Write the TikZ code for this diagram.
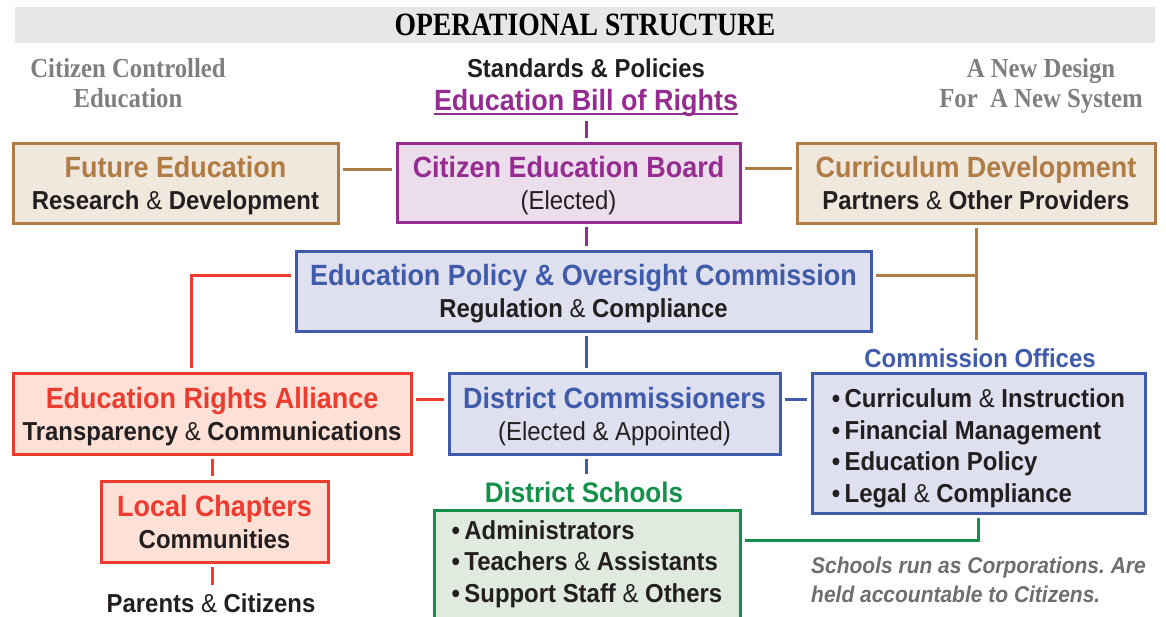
\documentclass[tikz,border=0pt]{standalone}
\usepackage{fontspec}
\setmainfont{Liberation Sans}[FakeStretch=0.92]
\newfontfamily\headserif{Liberation Serif}[FakeStretch=0.85]
\newfontfamily\sideserif{Liberation Serif}[FakeStretch=0.9]
\usepackage{xcolor}
\usetikzlibrary{positioning}
\frenchspacing

\definecolor{cebpurple}{HTML}{952C8F}
\definecolor{cebfill}{HTML}{EBDDEB}
\definecolor{rdbrown}{HTML}{B07C45}
\definecolor{rdfill}{HTML}{F0E7DD}
\definecolor{epblue}{HTML}{3F5BA9}
\definecolor{epfill}{HTML}{DFE0EF}
\definecolor{erared}{HTML}{EE3B2F}
\definecolor{erafill}{HTML}{FDE1D6}
\definecolor{dsgreen}{HTML}{14904A}
\definecolor{dsfill}{HTML}{E0EADF}
\definecolor{sidegray}{HTML}{7F7F7F}
\definecolor{notegray}{HTML}{6D6E70}
\definecolor{bandgray}{HTML}{E6E7E7}
\definecolor{inkblack}{HTML}{231F20}

\newcommand{\ramp}{{\mdseries\&}}
\newcommand{\boxtext}[3]{\rule{0pt}{28pt}{\fontsize{29.3}{32}\selectfont\color{#1}#2}\\#3\rule[-7pt]{0pt}{7pt}}

\begin{document}
\begin{tikzpicture}[x=1pt,y=-1pt,
    box/.style={draw,rectangle,line width=3pt,inner sep=0pt,outer sep=5pt,align=center,
      text=inkblack,font=\fontsize{26}{32}\selectfont\bfseries},
    purplebox/.style={box,draw=cebpurple,fill=cebfill},
    brownbox/.style={box,draw=rdbrown,fill=rdfill},
    bluebox/.style={box,draw=epblue,fill=epfill},
    redbox/.style={box,draw=erared,fill=erafill},
    greenbox/.style={box,draw=dsgreen,fill=dsfill},
    listbox/.style={align=left,font=\fontsize{26}{31.5}\selectfont\bfseries},
    sidetext/.style={align=center,text=sidegray,font=\sideserif\fontsize{27.5}{30}\selectfont\bfseries},
    textlabel/.style={inner sep=0pt,outer sep=8pt,font=\fontsize{26}{30}\selectfont\bfseries},
    purpleline/.style={cebpurple,line width=3pt},
    brownline/.style={rdbrown,line width=3pt},
    blueline/.style={epblue,line width=3pt},
    redline/.style={erared,line width=3pt},
    greenline/.style={dsgreen,line width=3pt}]
  \useasboundingbox (0,0) rectangle (1166,616);

  \node[fill=bandgray,minimum width=1140pt,minimum height=36pt,inner sep=0pt,
    font=\headserif\fontsize{32.5}{30}\selectfont\bfseries] (title) at (585,25) {OPERATIONAL STRUCTURE};
  \node[sidetext] (citizen) at (128,83) {Citizen Controlled\\Education};
  \node[sidetext] (design) at (1041,86) {A New Design\\For\ \ A New System};

  \node[textlabel,anchor=base,text=inkblack] (standards) at (586,77) {Standards \& Policies};
  \node[textlabel,anchor=base,outer sep=5pt,text=cebpurple,font=\fontsize{29.3}{30}\selectfont\bfseries] (bill) at (586,110) {Education Bill of Rights};
  \draw[cebpurple,line width=2pt] ([xshift=5pt,yshift=-4pt]bill.base west) -- ([xshift=-5pt,yshift=-4pt]bill.base east);

  \node[purplebox,minimum width=343pt,minimum height=79pt] (board) at (568.5,182.5)
    {\boxtext{cebpurple}{Citizen Education Board}{\mdseries(Elected)}};
  \node[brownbox,minimum width=325pt,minimum height=80pt] (future) at (175.5,183)
    {\boxtext{rdbrown}{Future Education}{Research \ramp{} Development}};
  \node[brownbox,minimum width=358pt,minimum height=80pt] (curric) at (976,183)
    {\boxtext{rdbrown}{Curriculum Development}{Partners \ramp{} Other Providers}};
  \node[bluebox,minimum width=575pt,minimum height=80pt] (epoc) at (583.5,291)
    {\boxtext{epblue}{Education Policy \& Oversight Commission}{Regulation \ramp{} Compliance}};
  \node[redbox,minimum width=398pt,minimum height=81pt] (era) at (212,413.5)
    {\boxtext{erared}{Education Rights Alliance}{Transparency \ramp{} Communications}};
  \node[bluebox,minimum width=331pt,minimum height=81pt] (dc) at (614.5,413.5)
    {\boxtext{epblue}{District Commissioners}{\mdseries(Elected \& Appointed)}};
  \node[redbox,minimum width=227pt,minimum height=81pt] (lc) at (214.5,521.5)
    {\boxtext{erared}{Local Chapters}{Communities}};
  \node[textlabel,text=inkblack] (parents) at (211,603) {Parents \ramp{} Citizens};

  \node[textlabel,text=epblue] (colabel) at (980,358) {Commission Offices};
  \node[bluebox,listbox,minimum width=333pt,minimum height=140pt] (co) at (978.5,443)
    {\rule{0pt}{29pt}•\,Curriculum \ramp{} Instruction\\•\,Financial Management\\•\,Education Policy\\•\,Legal \ramp{} Compliance};
  \node[textlabel,text=dsgreen,font=\fontsize{28.3}{30}\selectfont\bfseries] (dslabel) at (584,492) {District Schools};
  \node[greenbox,listbox,minimum width=306pt,minimum height=108pt] (ds) at (587,564)
    {•\,Administrators\\•\,Teachers \ramp{} Assistants\\•\,Support Staff \ramp{} Others};
  \node[anchor=west,inner sep=0pt,align=left,text=notegray,
    font=\fontsize{22.8}{29}\selectfont\bfseries\itshape] (note) at (811,580)
    {Schools run as Corporations. Are\\held accountable to Citizens.};

  \draw[purpleline] (bill.south) -- (board.north -| bill.south);
  \draw[purpleline] (board.south -| bill) -- (epoc.north -| bill);
  \draw[blueline] (epoc.south -| bill) -- (dc.north -| bill);
  \draw[blueline] (dc.south -| bill) -- (dslabel.north -| bill);
  \draw[brownline] ([yshift=14pt]future.east) -- ([yshift=14pt]future.east -| board.west);
  \draw[brownline] ([yshift=14pt]board.east) -- ([yshift=14pt]board.east -| curric.west);
  \draw[brownline] (curric.south) -- (colabel.north -| curric.south);
  \draw[brownline] ([yshift=16pt]epoc.east) -- ([yshift=16pt]epoc.east -| curric.south);
  \draw[redline] ([yshift=16pt]epoc.west) -| ([xshift=-21pt]era.north);
  \draw[redline] ([yshift=14.5pt]era.east) -- ([yshift=14.5pt]era.east -| dc.west);
  \draw[redline] (era.south) -- (lc.north -| era.south);
  \draw[redline] (lc.south -| era.south) -- (parents.north -| era.south);
  \draw[blueline] ([yshift=14.5pt]dc.east) -- ([yshift=14.5pt]dc.east -| co.west);
  \draw[greenline] ([yshift=24pt]ds.east) -| (co.south);
\end{tikzpicture}
\end{document}
